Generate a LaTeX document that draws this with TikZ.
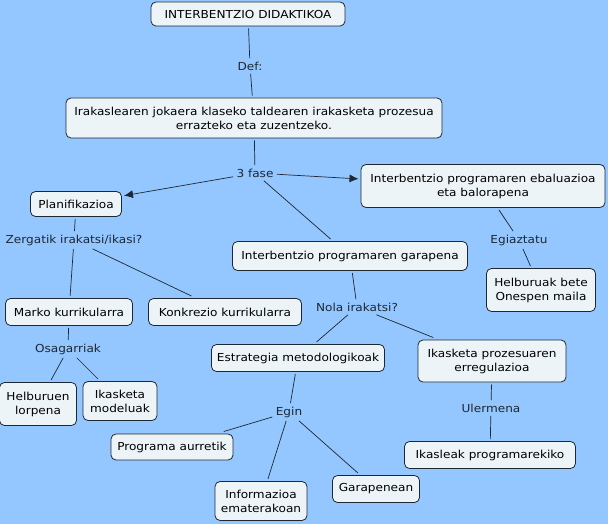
\documentclass[tikz,border=0pt]{standalone}
\usepackage{fontspec}
\setmainfont[FakeStretch=1.1]{DejaVu Sans}
\usetikzlibrary{arrows.meta}
\definecolor{mapblue}{RGB}{148,198,255}
\definecolor{boxfill}{RGB}{237,244,248}
\definecolor{boxline}{RGB}{30,40,50}
\tikzset{
	concept/.style={draw=boxline, fill=boxfill, rounded corners=5pt, line width=0.8pt, inner sep=3pt, align=center, font=\fontsize{11}{14}\selectfont, outer sep=2.5pt},
	link/.style={inner sep=2pt, outer sep=1.5pt, align=center, font=\fontsize{11}{14}\selectfont, text=boxline},
	wire/.style={line width=0.7pt, draw=boxline},
	pointer/.style={wire, -{Latex[length=9pt, width=8pt]}}
}
\begin{document}
\begin{tikzpicture}[x=1pt, y=-1pt]
	\fill[mapblue] (0,0) rectangle (608,524);
	\useasboundingbox (0,0) rectangle (608,524);

	% top of the map
	\node[concept, minimum width=194pt, minimum height=24pt] (didak) at (248,14) {INTERBENTZIO DIDAKTIKOA};
	\node[link] (def) at (250,66) {Def:};
	\node[concept, minimum width=376pt, minimum height=40pt] (irak) at (254,118) {Irakaslearen jokaera klaseko taldearen irakasketa prozesua\\errazteko eta zuzentzeko.};
	\node[link] (fase) at (255,173) {3 fase};

	% the three phases
	\node[concept, minimum width=91pt, minimum height=25pt] (plan) at (76,204) {Planifikazioa};
	\node[concept, minimum width=244pt, minimum height=43pt] (ebal) at (483,186) {Interbentzio programaren ebaluazioa\\eta balorapena};
	\node[concept, minimum width=235pt, minimum height=29pt] (garap) at (350,256) {Interbentzio programaren garapena};

	% planifikazioa
	\node[link] (zerg) at (74,240) {Zergatik irakatsi/ikasi?};
	\node[concept, minimum width=127pt, minimum height=27pt] (marko) at (69,312) {Marko kurrikularra};
	\node[concept, minimum width=153pt, minimum height=27pt] (konk) at (225,312) {Konkrezio kurrikularra};
	\node[link] (osag) at (68,349) {Osagarriak};
	\node[concept, minimum width=77pt, minimum height=43pt] (lorp) at (38,404) {Helburuen\\lorpena};
	\node[concept, minimum width=74pt, minimum height=39pt] (model) at (120,401) {Ikasketa\\modeluak};

	% garapena
	\node[link] (nola) at (357,307) {Nola irakatsi?};
	\node[concept, minimum width=173pt, minimum height=27pt] (estr) at (298,358) {Estrategia metodologikoak};
	\node[concept, minimum width=148pt, minimum height=42pt] (erreg) at (492,361) {Ikasketa prozesuaren\\erregulazioa};
	\node[link] (egin) at (289,412) {Egin};
	\node[concept, minimum width=122pt, minimum height=26pt] (aurr) at (172,447) {Programa aurretik};
	\node[concept, minimum width=92pt, minimum height=39pt] (emat) at (261,501) {Informazioa\\ematerakoan};
	\node[concept, minimum width=87pt, minimum height=27pt] (garpn) at (376,489) {Garapenean};
	\node[link] (uler) at (491,408) {Ulermena};
	\node[concept, minimum width=171pt, minimum height=27pt] (ikasl) at (490,455) {Ikasleak programarekiko};

	% ebaluazioa
	\node[link] (egiaz) at (519,240) {Egiaztatu};
	\node[concept, minimum width=109pt, minimum height=43pt] (bete) at (541,290) {Helburuak bete\\Onespen maila};

	% connectors
	\draw[wire] (didak) -- (def) -- (irak) -- (fase);
	\draw[pointer] (fase) -- (plan);
	\draw[pointer] (fase) -- (ebal);
	\draw[wire] (fase) -- (garap);
	\draw[wire] (plan) -- (zerg) -- (marko);
	\draw[wire] (zerg) -- (konk);
	\draw[wire] (marko) -- (osag) -- (lorp);
	\draw[wire] (osag) -- (model);
	\draw[wire] (garap) -- (nola) -- (estr);
	\draw[wire] (nola) -- (erreg) -- (uler) -- (ikasl);
	\draw[wire] (estr) -- (egin) -- (aurr);
	\draw[wire] (egin) -- (emat);
	\draw[wire] (egin) -- (garpn);
	\draw[wire] (ebal) -- (egiaz) -- (bete);
\end{tikzpicture}
\end{document}
